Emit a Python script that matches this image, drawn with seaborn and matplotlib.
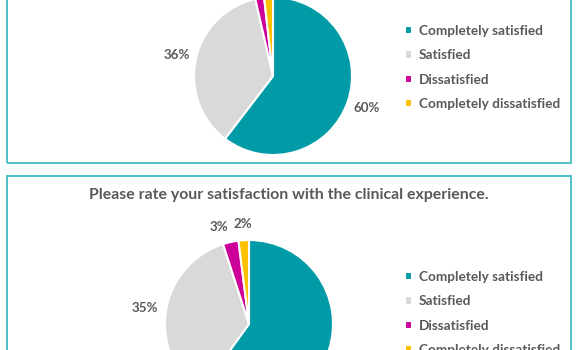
import matplotlib
matplotlib.use("Agg")
import matplotlib.pyplot as plt
import seaborn as sns
from matplotlib.patches import Rectangle

# ---- data ----
categories = ["Completely satisfied", "Satisfied", "Dissatisfied", "Completely dissatisfied"]
top_values = [60.4, 36.0, 1.8, 1.8]
bottom_values = [60, 35, 3, 2]
bottom_title = "Please rate your satisfaction with the clinical experience."

sns.set_theme(style="white")
plt.rcParams["font.family"] = ["Lato", "DejaVu Sans"]
colors = sns.color_palette(["#009BA6", "#D9D9D9", "#CC0099", "#FFC000"])
text_color = "#595959"
border_color = "#4FC0C9"

W, H = 580, 350
fig = plt.figure(figsize=(W / 100, H / 100), dpi=100)
fig.patch.set_facecolor("white")


def fx(px):
    return px / W


def fy(py):
    return 1 - py / H


# panel frames
fig.add_artist(Rectangle((fx(7), fy(163)), fx(571) - fx(7), fy(-20) - fy(163),
                         transform=fig.transFigure, fill=False,
                         edgecolor=border_color, linewidth=1.4))
fig.add_artist(Rectangle((fx(7), fy(400)), fx(571) - fx(7), fy(176) - fy(400),
                         transform=fig.transFigure, fill=False,
                         edgecolor=border_color, linewidth=1.4))


def draw_pie(values, cx, cy, r, legend_top):
    ax = fig.add_axes([fx(cx - r), fy(cy + r), (2 * r) / W, (2 * r) / H])
    wedges, texts, autotexts = ax.pie(
        values, colors=colors, startangle=90, counterclock=False,
        autopct="%.0f%%", pctdistance=1.25,
        wedgeprops=dict(edgecolor="white", linewidth=1.5),
        textprops=dict(color=text_color, fontweight="bold", fontsize=9.6),
        radius=1.0)
    ax.set_xlim(-1, 1)
    ax.set_ylim(-1, 1)
    ax.set_aspect("equal")
    ax.axis("off")
    for t in autotexts:
        t.set_clip_on(False)
    # keep the two small labels side by side without overlapping
    x2, y2 = autotexts[2].get_position()
    autotexts[2].set_position((x2 - 0.08, y2 - 0.06))
    x3, y3 = autotexts[3].get_position()
    autotexts[3].set_position((x3 + 0.01, y3 - 0.06))
    leg = fig.legend(wedges, categories, loc="upper left",
                     bbox_to_anchor=(fx(405), fy(legend_top)),
                     frameon=False, fontsize=9.8, handlelength=0.55,
                     handleheight=0.55, handletextpad=0.45,
                     labelspacing=0.9, borderpad=0, borderaxespad=0)
    for t in leg.get_texts():
        t.set_color(text_color)
        t.set_fontweight("bold")
    return ax


draw_pie(top_values, 273, 76, 79, 25)
draw_pie(bottom_values, 249, 324, 84, 271)

fig.text(fx(289), fy(195), bottom_title, ha="center", va="center",
         fontsize=11.4, fontweight="bold", color=text_color)

fig.savefig("out.png", dpi=100)
